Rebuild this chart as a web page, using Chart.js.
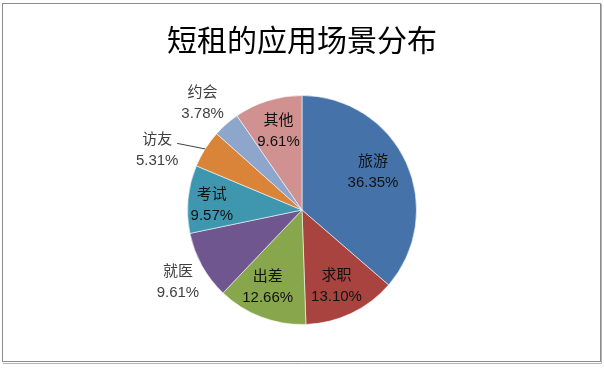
<!DOCTYPE html>
<html>
<head>
<meta charset="utf-8">
<script src="https://cdn.jsdelivr.net/npm/chart.js@4/dist/chart.umd.min.js"></script>
<style>
  html, body { margin: 0; padding: 0; background: #fff; }
  #wrap { width: 604px; height: 368px; }
</style>
</head>
<body>
<div id="wrap"><canvas id="c" width="604" height="368"></canvas></div>
<script>
// data
const categories = ['旅游', '求职', '出差', '就医', '考试', '访友', '约会', '其他'];
const shares = [36.35, 13.10, 12.66, 9.61, 9.57, 5.31, 3.78, 9.61];
const colors = ['#4573A9', '#A9433F', '#88A64C', '#6F568E', '#3F97AF', '#DA843A', '#8FA6CC', '#D09190'];

// label placement (fraction of radius + pixel nudge); outside ones get gray text
const labelRadius = [0.73, 0.76, 0.72, 1.24, 0.80, 1.32, 1.30, 0.72];
const labelShift = [[-5, -3], [-3, -3], [-5, 0], [0, 3], [1, 4], [-17, 20], [-1, 5], [1, 0]];
const leaderLine = [false, false, false, false, false, true, false, false];

const frame = {
    id: 'frame',
    beforeDraw(chart) {
        const ctx = chart.ctx;
        ctx.save();
        ctx.fillStyle = '#fff';
        ctx.fillRect(0, 0, chart.width, chart.height);
        ctx.strokeStyle = '#8c8c8c';
        ctx.lineWidth = 1;
        ctx.strokeRect(2.5, 3.5, 598, 358);
        ctx.strokeStyle = '#b4b4b4';
        ctx.beginPath();
        ctx.moveTo(601.5, 4);
        ctx.lineTo(601.5, 363.5);
        ctx.lineTo(3, 363.5);
        ctx.stroke();
        ctx.restore();
    }
};

const sliceLabels = {
    id: 'sliceLabels',
    afterDatasetsDraw(chart) {
        const ctx = chart.ctx;
        const meta = chart.getDatasetMeta(0);
        ctx.save();
        ctx.font = '15px "Liberation Sans", "Noto Sans CJK SC", sans-serif';
        ctx.textAlign = 'center';
        ctx.textBaseline = 'middle';
        meta.data.forEach((arc, i) => {
            const mid = (arc.startAngle + arc.endAngle) / 2;
            const R = arc.outerRadius;
            const r = R * labelRadius[i];
            const x = arc.x + Math.cos(mid) * r + labelShift[i][0];
            const y = arc.y + Math.sin(mid) * r + labelShift[i][1];
            const outside = labelRadius[i] > 1;
            ctx.fillStyle = outside ? '#404040' : '#111';
            if (leaderLine[i]) {
                // short line from the right of the name to the slice edge
                ctx.strokeStyle = '#404040';
                ctx.lineWidth = 1;
                ctx.beginPath();
                ctx.moveTo(x + 20, y - 6);
                ctx.lineTo(arc.x + Math.cos(mid) * R, arc.y + Math.sin(mid) * R);
                ctx.stroke();
            }
            ctx.fillText(categories[i], x, y - 10);
            ctx.fillText(shares[i].toFixed(2) + '%', x, y + 11);
        });
        ctx.restore();
    }
};

new Chart(document.getElementById('c'), {
    type: 'pie',
    data: {
        labels: categories,
        datasets: [{
            data: shares,
            backgroundColor: colors,
            borderColor: 'rgba(255,255,255,0.55)',
            borderWidth: 1
        }]
    },
    options: {
        responsive: false,
        animation: false,
        layout: { padding: { top: 0, bottom: 43, left: 0, right: 0 } },
        plugins: {
            legend: { display: false },
            tooltip: { enabled: false },
            title: {
                display: true,
                text: '短租的应用场景分布',
                color: '#000',
                font: { family: '"Noto Sans CJK SC", sans-serif', size: 30, weight: 'normal', lineHeight: 1.2 },
                padding: { top: 22, bottom: 37 }
            }
        }
    },
    plugins: [frame, sliceLabels]
});
</script>
</body>
</html>
